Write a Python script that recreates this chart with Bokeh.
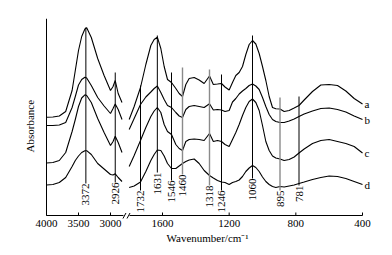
import math
from bokeh.plotting import figure
from bokeh.models import Range1d, FixedTicker, Title
from bokeh.core.properties import value
from bokeh.embed import file_html
from bokeh.resources import INLINE

# ---------------- data ----------------
# high-wavenumber window (4000 - 2820 cm-1)
wn_high = [4000, 3900, 3800, 3700, 3600, 3550, 3500, 3450, 3400, 3372,
           3300, 3200, 3100, 3000, 2960, 2926, 2880, 2820]
a_high = [0.983, 0.985, 0.995, 1.04, 1.25, 1.45, 1.65, 1.79, 1.865, 1.877,
          1.78, 1.57, 1.40, 1.25, 1.29, 1.35, 1.22, 1.13]
b_high = [0.90, 0.90, 0.905, 0.93, 1.08, 1.19, 1.305, 1.36, 1.383, 1.375,
          1.30, 1.18, 1.095, 1.02, 1.07, 1.115, 1.06, 0.96]
c_high = [0.525, 0.53, 0.55, 0.63, 0.84, 0.96, 1.09, 1.175, 1.207, 1.20,
          1.13, 0.97, 0.83, 0.70, 0.74, 0.793, 0.73, 0.63]
d_high = [0.305, 0.31, 0.33, 0.38, 0.49, 0.55, 0.595, 0.63, 0.648, 0.648,
          0.61, 0.52, 0.465, 0.41, 0.405, 0.417, 0.38, 0.34]

# low-wavenumber window (1800 - 400 cm-1)
wn_low = [1800, 1770, 1732, 1700, 1670, 1650, 1631, 1610, 1590, 1570,
          1546, 1520, 1500, 1480, 1460, 1440, 1410, 1380, 1350, 1318,
          1295, 1270, 1246, 1225, 1200, 1180, 1160, 1140, 1120, 1100,
          1080, 1060, 1040, 1020, 1000, 980, 960, 940, 920, 895,
          870, 840, 810, 781, 750, 700, 650, 600, 550, 500, 450, 400]
a_low = [0.96, 1.09, 1.28, 1.51, 1.70, 1.76, 1.783, 1.67, 1.49, 1.36,
         1.33, 1.27, 1.22, 1.19, 1.31, 1.37, 1.38, 1.355, 1.32, 1.395,
         1.31, 1.315, 1.32, 1.285, 1.255, 1.33, 1.40, 1.43, 1.49, 1.61,
         1.71, 1.75, 1.715, 1.62, 1.49, 1.35, 1.19, 1.08, 1.067, 1.065,
         1.04, 1.05, 1.075, 1.10, 1.155, 1.24, 1.305, 1.31, 1.30, 1.245, 1.17, 1.115]
b_low = [0.86, 0.97, 1.11, 1.185, 1.235, 1.27, 1.295, 1.23, 1.16, 1.10,
         1.08, 1.03, 0.995, 0.98, 1.06, 1.09, 1.10, 1.09, 1.08, 1.117,
         1.055, 1.06, 1.055, 1.04, 1.05, 1.135, 1.17, 1.215, 1.245, 1.27,
         1.30, 1.315, 1.295, 1.26, 1.18, 1.09, 1.01, 0.96, 0.94, 0.93,
         0.93, 0.945, 0.965, 0.99, 1.015, 1.045, 1.07, 1.075, 1.06, 1.035, 0.995, 0.96]
c_low = [0.49, 0.60, 0.75, 0.88, 0.99, 1.045, 1.08, 1.03, 0.91, 0.84,
         0.81, 0.71, 0.67, 0.65, 0.74, 0.76, 0.765, 0.76, 0.75, 0.82,
         0.74, 0.75, 0.74, 0.71, 0.69, 0.76, 0.83, 0.91, 1.00, 1.08,
         1.14, 1.165, 1.13, 1.05, 0.90, 0.74, 0.65, 0.595, 0.575, 0.565,
         0.55, 0.56, 0.585, 0.625, 0.665, 0.72, 0.75, 0.76, 0.74, 0.72, 0.69, 0.625]
d_low = [0.28, 0.295, 0.335, 0.44, 0.55, 0.61, 0.655, 0.65, 0.595, 0.52,
         0.47, 0.47, 0.495, 0.52, 0.54, 0.555, 0.565, 0.52, 0.45, 0.40,
         0.375, 0.35, 0.335, 0.33, 0.31, 0.33, 0.34, 0.355, 0.39, 0.44,
         0.475, 0.50, 0.48, 0.44, 0.385, 0.34, 0.31, 0.29, 0.28, 0.29,
         0.285, 0.295, 0.305, 0.32, 0.335, 0.36, 0.38, 0.395, 0.39, 0.37, 0.34, 0.31]

series_names = ["a", "b", "c", "d"]

# band markers
marker_text = ["3372", "2926", "1732", "1631", "1546", "1460", "1318", "1246", "1060", "895", "781"]
marker_pos = [3385, 2926, 1732, 1631, 1546, 1480, 1318, 1246, 1060, 895, 781]
marker_top = [1.88, 1.43, 1.30, 1.80, 1.43, 1.48, 1.46, 1.41, 1.80, 1.18, 1.19]
marker_bottom = [0.32, 0.33, 0.25, 0.43, 0.35, 0.41, 0.30, 0.25, 0.37, 0.25, 0.30]
marker_grey = [False, False, False, False, False, True, True, False, False, True, False]

tick_values = [4000, 3500, 3000, 1600, 1200, 800, 400]

x_title = "Wavenumber/cm\u207b\u00b9"
y_title = "Absorbance"

# ---------------- broken wavenumber axis ----------------
def wx(w):
    """map a wavenumber onto the broken axis coordinate"""
    if w >= 2500:
        return (4000 - w) * 384 / 1000
    return 696 + (1600 - w)

FONT = "Liberation Serif"

p = figure(width=392, height=255, output_backend="svg", toolbar_location=None,
           x_range=Range1d(-12, 2076), y_range=Range1d(-0.04, 1.97),
           min_border_left=44, min_border_right=0, min_border_top=18,
           min_border_bottom=36, title=None)
p.background_fill_color = "white"
p.border_fill_color = "white"
p.outline_line_color = None
p.xgrid.grid_line_color = None
p.ygrid.grid_line_color = None
p.yaxis.visible = False

tick_u = [wx(t) for t in tick_values]
p.xaxis.ticker = FixedTicker(ticks=tick_u)
p.xaxis.major_label_overrides = {u: str(t) for u, t in zip(tick_u, tick_values)}
p.xaxis.axis_line_color = None
p.xaxis.major_tick_line_color = None
p.xaxis.minor_tick_line_color = None
p.xaxis.major_tick_in = 0
p.xaxis.major_tick_out = 0
p.xaxis.major_label_standoff = 0
p.xaxis.major_label_text_font = FONT
p.xaxis.major_label_text_font_size = "11px"
p.xaxis.major_label_text_color = "black"

p.add_layout(Title(text=x_title, align="left", offset=122, standoff=1,
                   text_font=FONT, text_font_size="11px", text_font_style="normal",
                   text_color="black"), "below")
p.add_layout(Title(text=y_title, align="left", offset=67, standoff=17,
                   text_font=FONT, text_font_size="11px", text_font_style="normal",
                   text_color="black"), "left")

# axis lines, ticks, break marks
break_l = wx(2800)
break_r = wx(1800)
p.segment(x0=[0, break_r + 2], y0=[0, 0], x1=[break_l + 1, wx(400)], y1=[0, 0],
          line_color="black", line_width=1)
p.segment(x0=[0], y0=[0], x1=[0], y1=[1.97], line_color="black", line_width=1)
p.segment(x0=tick_u, y0=[0] * len(tick_u), x1=tick_u, y1=[0.03] * len(tick_u),
          line_color="black", line_width=1)
sl = [break_l + 7, break_r - 4]
p.segment(x0=[s - 9 for s in sl], y0=[-0.03, -0.03], x1=[s + 9 for s in sl], y1=[0.025, 0.025],
          line_color="black", line_width=1)

# spectra
for name, hi, lo in zip(series_names, [a_high, b_high, c_high, d_high],
                        [a_low, b_low, c_low, d_low]):
    p.line([wx(w) for w in wn_high], hi, line_color="black", line_width=1.1)
    p.line([wx(w) for w in wn_low], lo, line_color="black", line_width=1.1)

p.text(x=[wx(wn_low[-1])] * 4, y=[a_low[-1], b_low[-1], c_low[-1], d_low[-1]],
       text=series_names, text_font=value(FONT), text_font_size="11px",
       text_align="left", text_baseline="middle", x_offset=2, text_color="black")

# band marker lines and labels
for pos, top, bot, grey in zip(marker_pos, marker_top, marker_bottom, marker_grey):
    p.segment(x0=[wx(pos)], y0=[bot], x1=[wx(pos)], y1=[top],
              line_color="#8a8a8a" if grey else "black",
              line_width=1.4 if grey else 1)
p.text(x=[wx(m) for m in marker_pos], y=marker_bottom, text=marker_text,
       angle=math.pi / 2, text_align="right", text_baseline="middle",
       text_font=value(FONT), text_font_size="11px", text_color="black")

open("out.html", "w").write(file_html(p, INLINE))
